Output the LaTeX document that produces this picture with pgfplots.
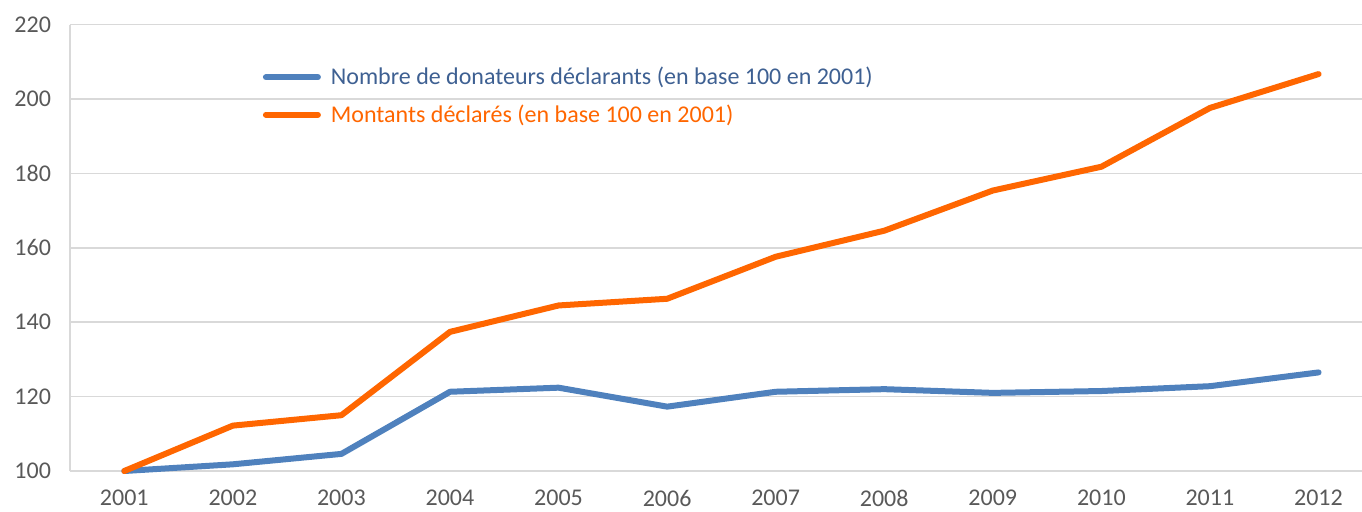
\documentclass[border=0pt]{standalone}
\usepackage{pgfplots}
\pgfplotsset{compat=1.18}
\usepackage{fontspec}
\setmainfont{Carlito}
\definecolor{lblue}{RGB}{79,129,189}
\definecolor{torange}{RGB}{255,102,0}
\definecolor{tblue}{RGB}{62,96,146}
\definecolor{grid}{RGB}{217,217,217}
\definecolor{tick}{RGB}{89,89,89}
\begin{document}
\begin{tikzpicture}
\path[use as bounding box] (0,0) rectangle (681pt,255.5pt);
\begin{axis}[
  at={(35pt,20pt)}, anchor=south west,
  scale only axis, width=646pt, height=223.2pt,
  xmin=2000.5, xmax=2012.4, ymin=100, ymax=220,
  xtick={2001,...,2012}, ytick={100,120,...,220},
  axis x line=bottom, axis y line=left,
  axis line style={-, draw=grid, line width=0.8pt},
  ymajorgrids, grid style={draw=grid, line width=0.8pt},
  major tick length=0pt,
  /pgf/number format/assume math mode=true,
  /pgf/number format/1000 sep={},
  tick label style={font=\fontsize{12}{14}\selectfont, text=tick},
  yticklabel style={xshift=-6pt},
  xticklabel style={yshift=-6pt},
  clip=false,
  legend style={draw=none, fill=none, at={(0.149,0.915)}, anchor=north west,
    font=\fontsize{12}{14}\selectfont, row sep=4.5pt, inner sep=0pt,
    /tikz/every odd column/.append style={column sep=3pt}},
  legend cell align=left,
  legend image code/.code={\draw[#1, line cap=round] (0pt,0pt) -- (26pt,0pt);},
]
\addplot[lblue, line width=3pt, line join=round, line cap=round] coordinates {
(2001,100) (2002,101.8) (2003,104.6) (2004,121.3) (2005,122.4) (2006,117.3)
(2007,121.3) (2008,122.0) (2009,121.0) (2010,121.5) (2011,122.8) (2012,126.5)};
\addlegendentry{\textcolor{tblue}{Nombre de donateurs déclarants (en base 100 en 2001)}}
\addplot[torange, line width=3pt, line join=round, line cap=round] coordinates {
(2001,100) (2002,112.2) (2003,115.0) (2004,137.4) (2005,144.5) (2006,146.3)
(2007,157.6) (2008,164.6) (2009,175.4) (2010,181.8) (2011,197.6) (2012,206.7)};
\addlegendentry{\textcolor{torange}{Montants déclarés (en base 100 en 2001)}}
\end{axis}
\end{tikzpicture}
\end{document}
